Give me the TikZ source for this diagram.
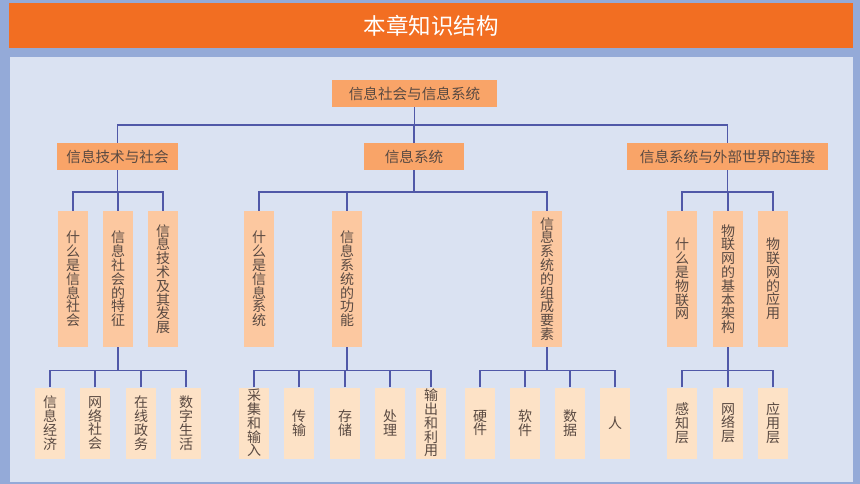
\documentclass[tikz,border=0pt]{standalone}
\usepackage{fontspec}
\newfontfamily\cjk{Noto Sans CJK SC}
\definecolor{frameblue}{HTML}{94AAD8}
\definecolor{panel}{HTML}{DAE2F2}
\definecolor{banner}{HTML}{F26E22}
\definecolor{lone}{HTML}{F9A468}
\definecolor{ltwo}{HTML}{FCC8A0}
\definecolor{lthree}{HTML}{FDE2C6}
\definecolor{linec}{HTML}{5058A8}
\definecolor{txt}{HTML}{5A4A42}
\tikzset{
  hbox/.style={fill=lone, text=txt, inner sep=0pt, font=\cjk\fontsize{14.6}{16}\selectfont, minimum height=27pt},
  vbox/.style={fill=ltwo, text=txt, inner sep=0pt, align=center, font=\cjk\fontsize{14}{13.8}\selectfont, minimum width=30pt, minimum height=136pt},
  lbox/.style={fill=lthree, text=txt, inner sep=0pt, align=center, font=\cjk\fontsize{14}{13.8}\selectfont, minimum width=30pt, minimum height=71pt},
  conn/.style={draw=linec, line width=1.6pt}
}
\begin{document}
\begin{tikzpicture}[x=1pt,y=-1pt]
\fill[frameblue] (0,0) rectangle (860,484);
\useasboundingbox (0,0) rectangle (860,484);
\fill[banner] (9,3) rectangle (853,48);
\fill[panel] (10,57) rectangle (853,482);
\node[text=white, font=\cjk\fontsize{22.5}{26}\selectfont] (title) at (431,26) {本章知识结构};

% root and level 1
\node[hbox, minimum width=165pt] (root) at (414.5,93.5) {信息社会与信息系统};
\node[hbox, minimum width=121pt] (A) at (117.5,156.5) {信息技术与社会};
\node[hbox, minimum width=100pt] (B) at (414,156.5) {信息系统};
\node[hbox, minimum width=201pt] (C) at (727.5,156.5) {信息系统与外部世界的连接};

% level 2
\node[vbox] (A1) at (73,279) {什\\么\\是\\信\\息\\社\\会};
\node[vbox] (A2) at (118,279) {信\\息\\社\\会\\的\\特\\征};
\node[vbox] (A3) at (163,279) {信\\息\\技\\术\\及\\其\\发\\展};
\node[vbox] (B1) at (259,279) {什\\么\\是\\信\\息\\系\\统};
\node[vbox] (B2) at (347,279) {信\\息\\系\\统\\的\\功\\能};
\node[vbox] (B3) at (547,279) {信\\息\\系\\统\\的\\组\\成\\要\\素};
\node[vbox] (C1) at (682,279) {什\\么\\是\\物\\联\\网};
\node[vbox] (C2) at (728,279) {物\\联\\网\\的\\基\\本\\架\\构};
\node[vbox] (C3) at (773,279) {物\\联\\网\\的\\应\\用};

% level 3
\node[lbox] (A21) at (50,423) {信\\息\\经\\济};
\node[lbox] (A22) at (95,423) {网\\络\\社\\会};
\node[lbox] (A23) at (141,423) {在\\线\\政\\务};
\node[lbox] (A24) at (186,423) {数\\字\\生\\活};
\node[lbox] (B21) at (254,423) {采\\集\\和\\输\\入};
\node[lbox] (B22) at (299,423) {传\\输};
\node[lbox] (B23) at (345,423) {存\\储};
\node[lbox] (B24) at (390,423) {处\\理};
\node[lbox] (B25) at (431,423) {输\\出\\和\\利\\用};
\node[lbox] (B31) at (480,423) {硬\\件};
\node[lbox] (B32) at (525,423) {软\\件};
\node[lbox] (B33) at (570,423) {数\\据};
\node[lbox] (B34) at (615,423) {人};
\node[lbox] (C21) at (682,423) {感\\知\\层};
\node[lbox] (C22) at (728,423) {网\\络\\层};
\node[lbox] (C23) at (773,423) {应\\用\\层};

% connectors
\foreach \c in {A,B,C} \draw[conn] (\c.north) -- ++(0,-18) -| (root.south);
\foreach \c in {A1,A2,A3} \draw[conn] (\c.north) -- ++(0,-19) -| (A.south);
\foreach \c in {B1,B2,B3} \draw[conn] (\c.north) -- ++(0,-19) -| (B.south);
\foreach \c in {C1,C2,C3} \draw[conn] (\c.north) -- ++(0,-19) -| (C.south);
\foreach \c in {A21,A22,A23,A24} \draw[conn] (\c.north) -- ++(0,-17) -| (A2.south);
\foreach \c in {B21,B22,B23,B24,B25} \draw[conn] (\c.north) -- ++(0,-17) -| (B2.south);
\foreach \c in {B31,B32,B33,B34} \draw[conn] (\c.north) -- ++(0,-17) -| (B3.south);
\foreach \c in {C21,C22,C23} \draw[conn] (\c.north) -- ++(0,-17) -| (C2.south);
\end{tikzpicture}
\end{document}
